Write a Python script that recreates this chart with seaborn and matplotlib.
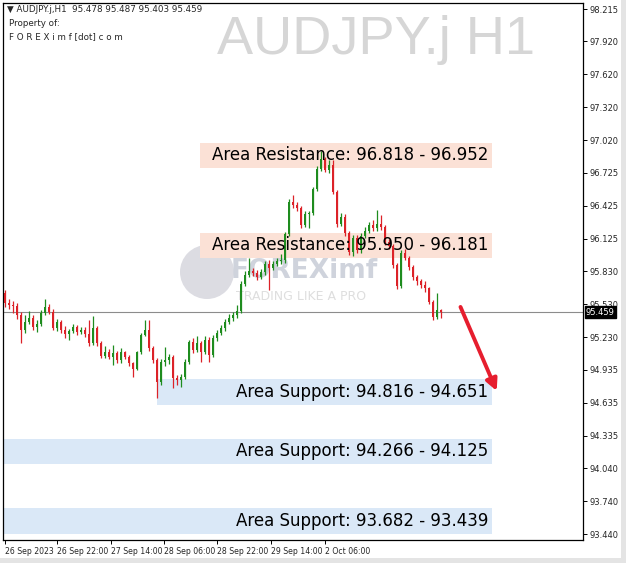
import matplotlib
matplotlib.use("Agg")
import matplotlib.pyplot as plt
import matplotlib.transforms as mtransforms
from matplotlib.patches import Rectangle, Ellipse
import seaborn as sns

# AUDJPY.j H1 candles (open = previous close)
first_open = 95.633
closes = [95.542, 95.524, 95.515, 95.433, 95.297, 95.370, 95.406, 95.324, 95.352, 95.452,
          95.506, 95.461, 95.315, 95.370, 95.297, 95.261, 95.288, 95.324, 95.279, 95.297,
          95.261, 95.179, 95.315, 95.179, 95.061, 95.097, 95.052, 95.088, 95.024, 95.097,
          95.052, 94.997, 94.943, 95.097, 95.252, 95.297, 95.133, 95.024, 94.824, 95.006,
          95.024, 95.052, 94.861, 94.843, 94.870, 95.006, 95.188, 95.115, 95.179, 95.097,
          95.206, 95.070, 95.224, 95.270, 95.315, 95.370, 95.406, 95.433, 95.470, 95.715,
          95.797, 95.833, 95.815, 95.779, 95.824, 95.897, 95.861, 95.897, 95.924, 95.933,
          96.170, 96.461, 96.433, 96.406, 96.251, 96.352, 96.361, 96.579, 96.761, 96.852,
          96.752, 96.797, 96.551, 96.261, 96.324, 96.179, 96.006, 96.133, 96.024, 96.152,
          96.197, 96.251, 96.224, 96.261, 96.233, 96.097, 96.061, 95.888, 95.697, 95.997,
          95.952, 95.870, 95.779, 95.743, 95.706, 95.679, 95.552, 95.415, 95.478, 95.459]
highs = [95.66, 95.58, 95.56, 95.54, 95.46, 95.43, 95.47, 95.43, 95.39, 95.48,
         95.58, 95.53, 95.49, 95.40, 95.39, 95.33, 95.31, 95.35, 95.34, 95.32,
         95.32, 95.39, 95.42, 95.33, 95.20, 95.15, 95.12, 95.16, 95.11, 95.13,
         95.11, 95.07, 95.01, 95.11, 95.27, 95.39, 95.39, 95.15, 95.04, 95.03,
         95.14, 95.08, 95.07, 94.89, 94.90, 95.03, 95.21, 95.22, 95.24, 95.20,
         95.24, 95.23, 95.25, 95.30, 95.34, 95.40, 95.44, 95.46, 95.52, 95.74,
         95.83, 95.95, 95.86, 95.84, 95.85, 95.92, 95.93, 95.92, 95.95, 95.99,
         96.19, 96.49, 96.52, 96.46, 96.42, 96.38, 96.38, 96.60, 96.79, 96.92,
         96.87, 96.84, 96.84, 96.57, 96.36, 96.35, 96.20, 96.16, 96.16, 96.18,
         96.23, 96.28, 96.30, 96.39, 96.34, 96.25, 96.12, 96.08, 95.91, 96.02,
         96.03, 95.97, 95.89, 95.80, 95.76, 95.74, 95.69, 95.57, 95.63, 95.487]
lows = [95.51, 95.49, 95.45, 95.40, 95.18, 95.27, 95.35, 95.30, 95.28, 95.33,
        95.43, 95.44, 95.30, 95.29, 95.27, 95.22, 95.21, 95.27, 95.25, 95.26,
        95.23, 95.15, 95.16, 95.15, 95.04, 95.04, 95.03, 94.98, 95.00, 95.00,
        95.03, 94.97, 94.87, 94.93, 95.08, 95.24, 95.11, 95.00, 94.68, 94.80,
        94.97, 94.99, 94.77, 94.80, 94.78, 94.85, 94.99, 95.09, 95.10, 95.01,
        95.08, 95.01, 95.05, 95.20, 95.25, 95.29, 95.35, 95.38, 95.41, 95.45,
        95.70, 95.78, 95.79, 95.75, 95.76, 95.80, 95.66, 95.84, 95.88, 95.90,
        95.91, 96.15, 96.41, 96.38, 96.22, 96.23, 96.22, 96.34, 96.56, 96.74,
        96.73, 96.72, 96.53, 96.23, 96.24, 96.15, 95.98, 95.97, 96.00, 96.00,
        96.13, 96.18, 96.20, 96.20, 96.21, 96.07, 96.03, 95.86, 95.67, 95.68,
        95.93, 95.84, 95.75, 95.71, 95.68, 95.64, 95.53, 95.39, 95.40, 95.403]
opens = [first_open] + closes[:-1]

date_labels = ["26 Sep 2023", "26 Sep 22:00", "27 Sep 14:00", "28 Sep 06:00",
               "28 Sep 22:00", "29 Sep 14:00", "2 Oct 06:00"]
price_ticks = [98.215, 97.920, 97.620, 97.320, 97.020, 96.725, 96.425, 96.125, 95.830,
               95.530, 95.230, 94.935, 94.635, 94.335, 94.040, 93.740, 93.440]

band_labels = ["Area Resistance: 96.818 - 96.952", "Area Resistance: 95.950 - 96.181",
               "Area Support: 94.816 - 94.651", "Area Support: 94.266 - 94.125",
               "Area Support: 93.682 - 93.439"]
band_low = [96.818, 95.950, 94.651, 94.125, 93.439]
band_high = [96.952, 96.181, 94.816, 94.266, 93.682]
band_kind = ["res", "res", "sup", "sup", "sup"]

last_price = 95.459

sns.set_style("white")
plt.rcParams["font.family"] = ["DejaVu Sans"]

fig = plt.figure(figsize=(6.26, 5.63), dpi=100)
# window frame strips on the right and bottom
fig.add_artist(Rectangle((621 / 626, 0), 5 / 626, 1, transform=fig.transFigure,
                         facecolor="#e4e4e4", edgecolor="none"))
fig.add_artist(Rectangle((0, 0), 1, 5 / 563, transform=fig.transFigure,
                         facecolor="#e4e4e4", edgecolor="none"))
ax = fig.add_axes([3 / 626, 23 / 563, 580 / 626, 537 / 563])

# watermarks
ax.text(535 / 626, 1 - 40 / 563, "AUDJPY.j H1", transform=fig.transFigure, ha="right",
        va="center", fontsize=39, color="#d6d6d6", family="Liberation Sans", zorder=0)
ax.add_patch(Ellipse((207 / 626, 1 - 272 / 563), 54 / 626, 54 / 563,
                     transform=fig.transFigure, facecolor="#dcdce2", edgecolor="none",
                     zorder=0))
ax.text(231 / 626, 1 - 271 / 563, "FOREXimf", transform=fig.transFigure, ha="left",
        va="center", fontsize=19, fontweight="bold", color="#cfd3dc", zorder=0)
ax.text(236 / 626, 1 - 296 / 563, "TRADING LIKE A PRO", transform=fig.transFigure,
        ha="left", va="center", fontsize=9, color="#dedede", zorder=0)

# support / resistance areas
band_start = [48.75, 48.75, 38, -0.3, -0.3]
band_end = 121.8
for lab, lo, hi, kind, x0 in zip(band_labels, band_low, band_high, band_kind, band_start):
    mid = (lo + hi) / 2
    half = max((hi - lo) / 2, 0.115)
    fc = "#fbe1d6" if kind == "res" else "#dae8f7"
    ax.add_patch(Rectangle((x0, mid - half), band_end - x0, 2 * half,
                           facecolor=fc, edgecolor="none", zorder=1))
    ax.text(band_end - 1, mid, lab, ha="right", va="center", fontsize=12,
            color="black", zorder=4)

# current price line
ax.axhline(last_price, color="#8c8c8c", lw=0.8, zorder=1.5)

# candles
for i, (o, h, l, c) in enumerate(zip(opens, highs, lows, closes)):
    col = "#1e8c1e" if c >= o else "#dc2228"
    ax.vlines(i, l, h, color=col, lw=0.9, zorder=2)
    ax.bar(i, max(abs(c - o), 0.008), bottom=min(o, c), width=0.72, color=col,
           linewidth=0, zorder=3)

# red arrow
ax.annotate("", xy=(123.2, 94.72), xytext=(113.6, 95.53),
            arrowprops=dict(arrowstyle="-|>", color="#e61e2e", lw=2.8,
                            mutation_scale=17), zorder=5)

ax.set_xlim(-0.5, 144.5)
ax.set_ylim(93.388, 98.27)

ax.yaxis.tick_right()
ax.set_yticks(price_ticks)
ax.set_yticklabels([f"{p:.3f}" for p in price_ticks])
ax.set_xticks([0, 13.0, 26.5, 39.8, 53.0, 66.5, 80.0])
ax.set_xticklabels(date_labels, ha="left")
ax.tick_params(axis="both", labelsize=6, length=3, width=0.7, color="black",
               direction="out", pad=2)
ax.tick_params(axis="x", labelsize=5.6, bottom=True)
ax.tick_params(axis="y", right=True, left=False)
for s in ax.spines.values():
    s.set_color("black")
    s.set_linewidth(0.9)

# last price tag on the scale
trans = mtransforms.blended_transform_factory(ax.transAxes, ax.transData)
ax.text(1.005, last_price, f"{last_price:.3f}", transform=trans, ha="left", va="center",
        fontsize=6, color="white", zorder=6, clip_on=False,
        bbox=dict(boxstyle="square,pad=0.15", facecolor="black", edgecolor="black"))

# header text
fig.text(7 / 626, 1 - 10 / 563, "\u25bc AUDJPY.j,H1  95.478 95.487 95.403 95.459",
         fontsize=6.3, va="center", ha="left")
fig.text(9 / 626, 1 - 24 / 563, "Property of:", fontsize=6.3, va="center", ha="left")
fig.text(9 / 626, 1 - 37 / 563, "F O R E X i m f [dot] c o m", fontsize=6.3,
         va="center", ha="left")

fig.savefig("out.png", dpi=100)
plt.close(fig)
